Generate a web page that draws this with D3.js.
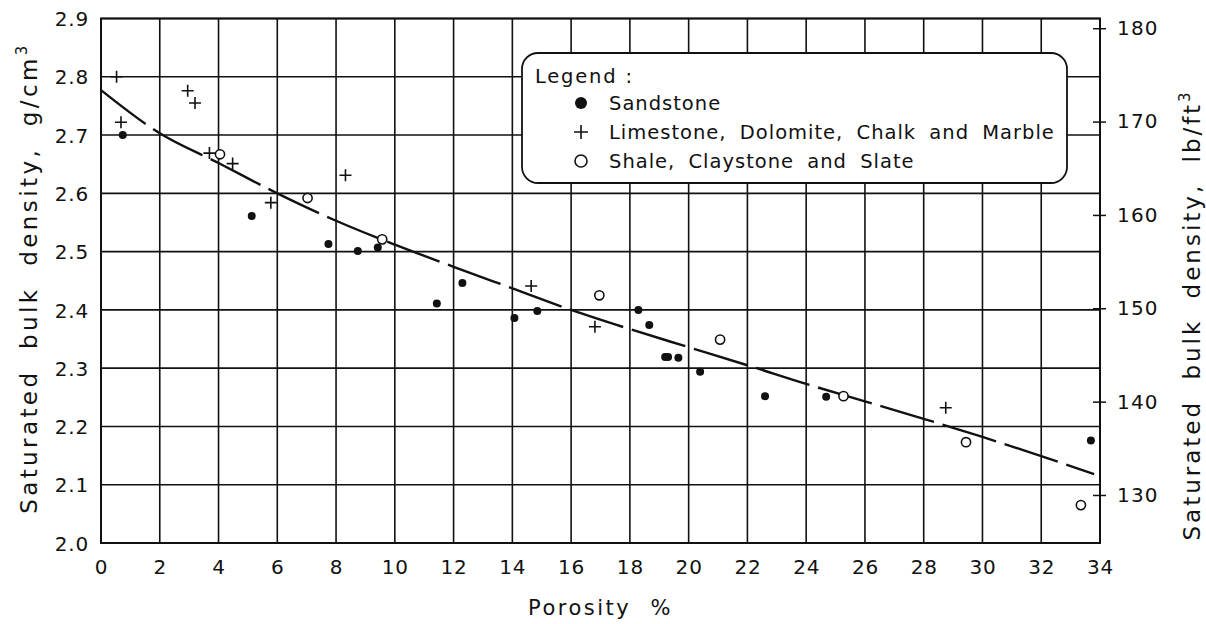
<!DOCTYPE html>
<html>
<head>
<meta charset="utf-8">
<script src="https://cdn.jsdelivr.net/npm/d3@7"></script>
<style>
  body { margin: 0; background: #fff; }
  svg text { font-family: "DejaVu Sans", sans-serif; fill: #111; }
</style>
</head>
<body>
<div id="chart"></div>
<script>
// porosity %, saturated bulk density g/cm3
var sandstone = [
  [0.74, 2.70], [5.13, 2.561], [7.74, 2.513], [8.74, 2.501], [9.42, 2.507],
  [11.43, 2.411], [12.3, 2.446], [14.07, 2.386], [14.85, 2.398], [18.29, 2.40],
  [18.66, 2.374], [19.2, 2.319], [19.3, 2.319], [19.65, 2.318], [20.39, 2.294],
  [22.6, 2.252], [24.68, 2.251], [33.69, 2.176]
]
var limestone = [
  [0.53, 2.80], [0.68, 2.722], [2.95, 2.776], [3.2, 2.755], [3.69, 2.669],
  [4.48, 2.651], [5.78, 2.584], [8.32, 2.631], [14.64, 2.441], [16.81, 2.371],
  [28.75, 2.232]
]
var shale = [
  [4.05, 2.667], [7.03, 2.592], [9.57, 2.521], [16.96, 2.425], [21.07, 2.349],
  [25.27, 2.252], [29.44, 2.173], [33.35, 2.065]
]
// dashed trend curve
var trend = [
  [0, 2.777], [2, 2.703], [4, 2.652], [6, 2.60], [8, 2.553], [10, 2.512],
  [12, 2.474], [14, 2.437], [16, 2.40], [18, 2.367], [20, 2.336], [22, 2.305],
  [24, 2.273], [26, 2.243], [28, 2.213], [30, 2.182], [32, 2.149], [33.8, 2.118]
]
var xTicks = d3.range(0, 35, 2)
var yTicks = [2.0, 2.1, 2.2, 2.3, 2.4, 2.5, 2.6, 2.7, 2.8, 2.9]
var lbTicks = [130, 140, 150, 160, 170, 180]
var legendLabels = ['Sandstone', 'Limestone, Dolomite, Chalk and Marble', 'Shale, Claystone and Slate']

var margin = {top: 18.5, right: 106, bottom: 81, left: 101}
var width = 1206 - margin.left - margin.right
var height = 624 - margin.top - margin.bottom

var svg = d3.select('#chart')
  .append('svg')
  .attr('width', 1206)
  .attr('height', 624)

var g = svg.append('g')
  .attr('transform', 'translate(' + margin.left + ',' + margin.top + ')')

var x = d3.scaleLinear().domain([0, 34]).range([0, width])
var y = d3.scaleLinear().domain([2.0, 2.9]).range([height, 0])
// 1 g/cm3 = 62.428 lb/ft3
var yLb = d3.scaleLinear().domain([2.0 * 62.428, 2.9 * 62.428]).range([height, 0])

// grid
g.selectAll('.vgrid')
  .data(xTicks)
  .enter()
  .append('line')
  .attr('x1', d => x(d))
  .attr('x2', d => x(d))
  .attr('y1', 0)
  .attr('y2', height)
  .attr('stroke', '#111')
  .attr('stroke-width', 1.6)

g.selectAll('.hgrid')
  .data(yTicks)
  .enter()
  .append('line')
  .attr('x1', 0)
  .attr('x2', width)
  .attr('y1', d => y(d))
  .attr('y2', d => y(d))
  .attr('stroke', '#111')
  .attr('stroke-width', 1.6)

g.append('rect')
  .attr('width', width)
  .attr('height', height)
  .attr('fill', 'none')
  .attr('stroke', '#111')
  .attr('stroke-width', 2)

// left axis
var leftAxis = g.append('g')
  .call(d3.axisLeft(y).tickValues(yTicks).tickFormat(d3.format('.1f')).tickSize(0).tickPadding(12))
leftAxis.select('.domain').remove()
leftAxis.selectAll('text').attr('font-size', 20).attr('letter-spacing', 0.8).attr('dy', '0.36em')

// bottom axis
var bottomAxis = g.append('g')
  .attr('transform', 'translate(0,' + height + ')')
  .call(d3.axisBottom(x).tickValues(xTicks).tickSize(0).tickPadding(17))
bottomAxis.select('.domain').remove()
bottomAxis.selectAll('text').attr('font-size', 20).attr('letter-spacing', 0.8)

// right axis (lb/ft3)
var rightAxis = g.append('g')
  .attr('transform', 'translate(' + width + ',0)')
  .call(d3.axisRight(yLb).tickValues(lbTicks).tickSize(6).tickPadding(11))
rightAxis.select('.domain').remove()
rightAxis.selectAll('line').attr('x1', -7).attr('stroke', '#111').attr('stroke-width', 1.5)
rightAxis.selectAll('text').attr('font-size', 20).attr('letter-spacing', 1.2)

// titles
g.append('text')
  .attr('x', width / 2)
  .attr('y', height + 72)
  .attr('text-anchor', 'middle')
  .attr('font-size', 21)
  .attr('letter-spacing', 2.5)
  .attr('word-spacing', 10)
  .text('Porosity %')

var leftTitle = svg.append('text')
  .attr('transform', 'translate(37,278) rotate(-90)')
  .attr('text-anchor', 'middle')
  .attr('font-size', 23)
  .attr('letter-spacing', 3.4)
  .attr('word-spacing', 10)
leftTitle.append('tspan').text('Saturated bulk density, g/cm')
leftTitle.append('tspan').attr('dy', -10).attr('font-size', 15).text('3')

var rightTitle = svg.append('text')
  .attr('transform', 'translate(1200,315) rotate(-90)')
  .attr('text-anchor', 'middle')
  .attr('font-size', 23)
  .attr('letter-spacing', 3.0)
  .attr('word-spacing', 10)
rightTitle.append('tspan').text('Saturated bulk density, lb/ft')
rightTitle.append('tspan').attr('dy', -10).attr('font-size', 15).text('3')

// trend line
var line = d3.line()
  .x(d => x(d[0]))
  .y(d => y(d[1]))
  .curve(d3.curveMonotoneX)

g.append('path')
  .datum(trend)
  .attr('d', line)
  .attr('fill', 'none')
  .attr('stroke', '#111')
  .attr('stroke-width', 2.4)
  .attr('stroke-dasharray', '56,9')

// points
g.selectAll('.sand')
  .data(sandstone)
  .enter()
  .append('circle')
  .attr('cx', d => x(d[0]))
  .attr('cy', d => y(d[1]))
  .attr('r', 4)
  .attr('fill', '#111')

g.selectAll('.shale')
  .data(shale)
  .enter()
  .append('circle')
  .attr('cx', d => x(d[0]))
  .attr('cy', d => y(d[1]))
  .attr('r', 4.6)
  .attr('fill', '#fff')
  .attr('stroke', '#111')
  .attr('stroke-width', 1.6)

g.selectAll('.lime')
  .data(limestone)
  .enter()
  .append('path')
  .attr('d', 'M-6,0H6M0,-6V6')
  .attr('transform', d => 'translate(' + x(d[0]) + ',' + y(d[1]) + ')')
  .attr('stroke', '#111')
  .attr('stroke-width', 1.6)
  .attr('fill', 'none')

// legend
var legend = svg.append('g').attr('transform', 'translate(522,53)')
legend.append('rect')
  .attr('width', 545)
  .attr('height', 130)
  .attr('rx', 16)
  .attr('fill', '#fff')
  .attr('stroke', '#111')
  .attr('stroke-width', 1.8)

legend.append('text')
  .attr('x', 13)
  .attr('y', 30)
  .attr('font-size', 19.5)
  .attr('letter-spacing', 1.8)
  .text('Legend :')

var items = legend.selectAll('.legend-item')
  .data(legendLabels)
  .enter()
  .append('g')
  .attr('transform', (d, i) => 'translate(0,' + (50 + i * 29) + ')')

items.append('text')
  .attr('x', 87)
  .attr('y', 7)
  .attr('font-size', 19.5)
  .attr('letter-spacing', 1.0)
  .attr('word-spacing', 6)
  .text(d => d)

items.filter((d, i) => i === 0).append('circle')
  .attr('cx', 59).attr('r', 6).attr('fill', '#111')
items.filter((d, i) => i === 1).append('path')
  .attr('transform', 'translate(59,0)')
  .attr('d', 'M-7,0H7M0,-7V7')
  .attr('stroke', '#111').attr('stroke-width', 1.6)
items.filter((d, i) => i === 2).append('circle')
  .attr('cx', 59).attr('r', 6).attr('fill', '#fff')
  .attr('stroke', '#111').attr('stroke-width', 1.6)
</script>
</body>
</html>
